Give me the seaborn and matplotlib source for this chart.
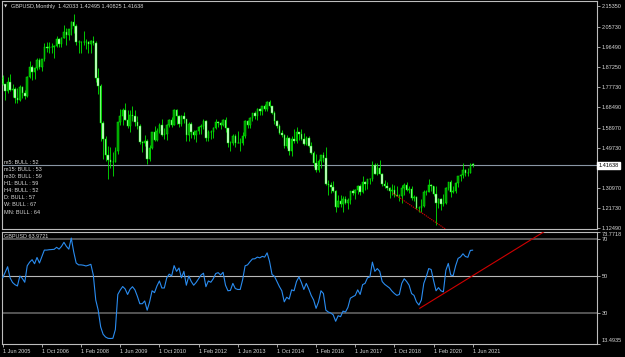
import numpy as np
import matplotlib
matplotlib.use("Agg")
import matplotlib.pyplot as plt
import seaborn as sns
from matplotlib.transforms import blended_transform_factory

# ---------------- data (GBPUSD monthly, Jun 2005 .. Jun 2021) ----------------
opens = [
    1.8180, 1.7920, 1.7600, 1.8010, 1.7650, 1.7700, 1.7280,                          # 2005 Jun-Dec
    1.7190, 1.7790, 1.7500, 1.7370, 1.8230, 1.8710, 1.8490, 1.8680, 1.9040, 1.8720, 1.9070, 1.9640,  # 2006
    1.9580, 1.9620, 1.9620, 1.9670, 1.9990, 1.9790, 2.0070, 2.0330, 2.0180, 2.0450, 2.0800, 2.0590,  # 2007
    1.9850, 1.9890, 1.9860, 1.9850, 1.9850, 1.9780, 1.9900, 1.9800, 1.8210, 1.7840, 1.6100, 1.5380,  # 2008
    1.4620, 1.4380, 1.4310, 1.4320, 1.4800, 1.6150, 1.6450, 1.6700, 1.6270, 1.5990, 1.6480, 1.6450,  # 2009
    1.6150, 1.5990, 1.5220, 1.5170, 1.5290, 1.4450, 1.4950, 1.5690, 1.5340, 1.5730, 1.6030, 1.5580,  # 2010
    1.5610, 1.6020, 1.6260, 1.6030, 1.6700, 1.6450, 1.6060, 1.6430, 1.6290, 1.5580, 1.6070, 1.5680,  # 2011
    1.5540, 1.5760, 1.5910, 1.5990, 1.6230, 1.5420, 1.5700, 1.5680, 1.5870, 1.6150, 1.6130, 1.6020,  # 2012
    1.6260, 1.5860, 1.5170, 1.5190, 1.5530, 1.5190, 1.5210, 1.5210, 1.5500, 1.6190, 1.6030, 1.6360,  # 2013
    1.6560, 1.6430, 1.6750, 1.6670, 1.6880, 1.6740, 1.7110, 1.6880, 1.6600, 1.6210, 1.5990, 1.5640,  # 2014
    1.5580, 1.5030, 1.5440, 1.4830, 1.5350, 1.5280, 1.5710, 1.5610, 1.5350, 1.5130, 1.5430, 1.5060,  # 2015
    1.4740, 1.4250, 1.3920, 1.4370, 1.4610, 1.4480, 1.3310, 1.3240, 1.3130, 1.2980, 1.2240, 1.2480,  # 2016
    1.2340, 1.2580, 1.2410, 1.2550, 1.2950, 1.2880, 1.3030, 1.3210, 1.2930, 1.3400, 1.3280, 1.3520,  # 2017
    1.3510, 1.4190, 1.3770, 1.4030, 1.3770, 1.3290, 1.3210, 1.3120, 1.2970, 1.3030, 1.2770, 1.2740,  # 2018
    1.2750, 1.3110, 1.3260, 1.3030, 1.3040, 1.2630, 1.2700, 1.2160, 1.2160, 1.2290, 1.2940, 1.2930,  # 2019
    1.3250, 1.3200, 1.2820, 1.2410, 1.2590, 1.2340, 1.2400, 1.3090, 1.3370, 1.2920, 1.2950, 1.3340,  # 2020
    1.3670, 1.3710, 1.3930, 1.3780, 1.3820, 1.42033,                                 # 2021 Jan-Jun
]
highs = [
    1.8360, 1.7930, 1.8250, 1.8370, 1.7920, 1.7780, 1.7720,
    1.7890, 1.7830, 1.7660, 1.8300, 1.9000, 1.8820, 1.8720, 1.9130, 1.9130, 1.9100, 1.9820, 1.9850,
    1.9850, 1.9800, 1.9720, 2.0130, 2.0030, 2.0090, 2.0660, 2.0510, 2.0470, 2.0820, 2.1160, 2.0710,
    1.9950, 1.9930, 2.0400, 2.0000, 1.9910, 1.9960, 2.0160, 1.9930, 1.8650, 1.7900, 1.6190, 1.5530,
    1.5040, 1.4990, 1.4780, 1.4990, 1.6170, 1.6750, 1.6790, 1.7040, 1.6700, 1.6700, 1.6880, 1.6730,
    1.6460, 1.6050, 1.5300, 1.5580, 1.5390, 1.5100, 1.5700, 1.5960, 1.5880, 1.6100, 1.6300, 1.5890,
    1.6060, 1.6280, 1.6410, 1.6740, 1.6750, 1.6480, 1.6470, 1.6620, 1.6300, 1.6160, 1.6160, 1.5780,
    1.5810, 1.5980, 1.6060, 1.6300, 1.6250, 1.5780, 1.5780, 1.5920, 1.6310, 1.6190, 1.6140, 1.6310,
    1.6380, 1.5880, 1.5270, 1.5600, 1.5610, 1.5750, 1.5420, 1.5720, 1.6260, 1.6260, 1.6380, 1.6600,
    1.6670, 1.6820, 1.6800, 1.6900, 1.6990, 1.7120, 1.7190, 1.6920, 1.6650, 1.6260, 1.6060, 1.5790,
    1.5590, 1.5550, 1.5450, 1.5500, 1.5820, 1.5930, 1.5720, 1.5820, 1.5660, 1.5510, 1.5510, 1.5250,
    1.4810, 1.4670, 1.4460, 1.4640, 1.4770, 1.5020, 1.3480, 1.3370, 1.3450, 1.2990, 1.2770, 1.2780,
    1.2710, 1.2710, 1.2620, 1.2970, 1.3050, 1.3050, 1.3230, 1.3270, 1.3660, 1.3420, 1.3540, 1.3550,
    1.4350, 1.4250, 1.4250, 1.4380, 1.3790, 1.3470, 1.3360, 1.3130, 1.3300, 1.3260, 1.3180, 1.2840,
    1.3220, 1.3350, 1.3380, 1.3200, 1.3180, 1.2780, 1.2710, 1.2250, 1.2580, 1.3010, 1.3010, 1.3510,
    1.3280, 1.3210, 1.3200, 1.2650, 1.2650, 1.2810, 1.3170, 1.3390, 1.3480, 1.3180, 1.3400, 1.3680,
    1.3760, 1.4240, 1.4000, 1.4010, 1.4250, 1.42495,
]
lows = [
    1.7870, 1.7180, 1.7520, 1.7580, 1.7330, 1.7040, 1.7040,
    1.7140, 1.7270, 1.7210, 1.7300, 1.8220, 1.8090, 1.8130, 1.8570, 1.8620, 1.8520, 1.8970, 1.9400,
    1.9380, 1.9340, 1.9110, 1.9630, 1.9650, 1.9650, 2.0050, 1.9730, 1.9970, 2.0190, 2.0300, 1.9750,
    1.9370, 1.9360, 1.9710, 1.9540, 1.9340, 1.9360, 1.9720, 1.8000, 1.7450, 1.5260, 1.4450, 1.4340,
    1.3500, 1.4010, 1.3660, 1.4300, 1.4680, 1.6010, 1.6010, 1.6260, 1.5900, 1.5710, 1.6220, 1.5980,
    1.5830, 1.5150, 1.4780, 1.5070, 1.4230, 1.4360, 1.4900, 1.5290, 1.5300, 1.5650, 1.5530, 1.5350,
    1.5340, 1.5940, 1.5930, 1.6030, 1.6090, 1.5910, 1.5960, 1.6130, 1.5270, 1.5270, 1.5420, 1.5390,
    1.5230, 1.5600, 1.5600, 1.5850, 1.5270, 1.5270, 1.5390, 1.5400, 1.5830, 1.5910, 1.5830, 1.5990,
    1.5680, 1.5010, 1.4830, 1.5090, 1.5000, 1.5170, 1.4810, 1.5100, 1.5430, 1.5890, 1.5900, 1.6230,
    1.6280, 1.6250, 1.6480, 1.6470, 1.6690, 1.6690, 1.6860, 1.6540, 1.6050, 1.5870, 1.5590, 1.5480,
    1.4950, 1.4950, 1.4630, 1.4570, 1.5170, 1.5170, 1.5330, 1.5330, 1.5100, 1.5110, 1.5020, 1.4700,
    1.4080, 1.3840, 1.3840, 1.4010, 1.4330, 1.3220, 1.2800, 1.2850, 1.2920, 1.1990, 1.2200, 1.2200,
    1.1990, 1.2340, 1.2110, 1.2370, 1.2770, 1.2590, 1.2810, 1.2770, 1.2850, 1.3030, 1.3040, 1.3300,
    1.3450, 1.3760, 1.3710, 1.3760, 1.3200, 1.3100, 1.3010, 1.2660, 1.2790, 1.2700, 1.2720, 1.2480,
    1.2430, 1.2770, 1.2960, 1.2870, 1.2560, 1.2510, 1.2120, 1.2010, 1.2000, 1.2200, 1.2770, 1.2900,
    1.2950, 1.2720, 1.1410, 1.2160, 1.2080, 1.2250, 1.2380, 1.2990, 1.2680, 1.2860, 1.2850, 1.3130,
    1.3450, 1.3570, 1.3670, 1.3670, 1.3800, 1.40825,
]
closes = [
    1.7920, 1.7600, 1.8010, 1.7650, 1.7700, 1.7280, 1.7190,
    1.7790, 1.7500, 1.7370, 1.8230, 1.8710, 1.8490, 1.8680, 1.9040, 1.8720, 1.9070, 1.9640, 1.9580,
    1.9620, 1.9620, 1.9670, 1.9990, 1.9790, 2.0070, 2.0330, 2.0180, 2.0450, 2.0800, 2.0590, 1.9850,
    1.9890, 1.9860, 1.9850, 1.9850, 1.9780, 1.9900, 1.9800, 1.8210, 1.7840, 1.6100, 1.5380, 1.4620,
    1.4380, 1.4310, 1.4320, 1.4800, 1.6150, 1.6450, 1.6700, 1.6270, 1.5990, 1.6480, 1.6450, 1.6150,
    1.5990, 1.5220, 1.5170, 1.5290, 1.4450, 1.4950, 1.5690, 1.5340, 1.5730, 1.6030, 1.5580, 1.5610,
    1.6020, 1.6260, 1.6030, 1.6700, 1.6450, 1.6060, 1.6430, 1.6290, 1.5580, 1.6070, 1.5680, 1.5540,
    1.5760, 1.5910, 1.5990, 1.6230, 1.5420, 1.5700, 1.5680, 1.5870, 1.6150, 1.6130, 1.6020, 1.6260,
    1.5860, 1.5170, 1.5190, 1.5530, 1.5190, 1.5210, 1.5210, 1.5500, 1.6190, 1.6030, 1.6360, 1.6560,
    1.6430, 1.6750, 1.6670, 1.6880, 1.6740, 1.7110, 1.6880, 1.6600, 1.6210, 1.5990, 1.5640, 1.5580,
    1.5030, 1.5440, 1.4830, 1.5350, 1.5280, 1.5710, 1.5610, 1.5350, 1.5130, 1.5430, 1.5060, 1.4740,
    1.4250, 1.3920, 1.4370, 1.4610, 1.4480, 1.3310, 1.3240, 1.3130, 1.2980, 1.2240, 1.2480, 1.2340,
    1.2580, 1.2410, 1.2550, 1.2950, 1.2880, 1.3030, 1.3210, 1.2930, 1.3400, 1.3280, 1.3520, 1.3510,
    1.4190, 1.3770, 1.4030, 1.3770, 1.3290, 1.3210, 1.3120, 1.2970, 1.3030, 1.2770, 1.2740, 1.2750,
    1.3110, 1.3260, 1.3030, 1.3040, 1.2630, 1.2700, 1.2160, 1.2160, 1.2290, 1.2940, 1.2930, 1.3250,
    1.3200, 1.2820, 1.2410, 1.2590, 1.2340, 1.2400, 1.3090, 1.3370, 1.2920, 1.2950, 1.3340, 1.3670,
    1.3710, 1.3930, 1.3780, 1.3820, 1.4150, 1.41638,
]
# RSI values
rsi_values = [
    49, 52, 55, 49, 46.5, 45.3, 44.6, 50, 48.7, 46.6,
    55.5, 57.5, 58.8, 56.6, 60, 57, 60.5, 64, 64, 64.2,
    64.3, 64.4, 65.5, 64.5, 66, 68.2, 66, 64.5, 70.5, 63,
    57, 56, 56, 55.8, 55.4, 55.8, 56.3, 50.5, 37, 31.5,
    22.5, 18.5, 17, 16.3, 16.2, 16.3, 21, 40, 42.4, 44.3,
    43, 40, 42.8, 44.2, 42.5, 39, 35, 35, 36.5, 31.5,
    36, 42, 41, 44.6, 47.3, 43.5, 43.5, 49, 51, 50,
    55.6, 52.5, 54.3, 49, 52.5, 45, 50, 47, 45, 46.5,
    48.5, 50.5, 51.5, 44.2, 47.3, 46.6, 48.5,
    51.3, 51.8, 50.5, 52, 45, 42, 42.2, 46, 43.2, 42.7, 42.7, 48, 55.5,
    56, 57.7, 59.2, 59.3, 60.2, 59.8, 60.6, 60.2, 62.5, 57.8,
    50.8, 49.8, 47, 44.3, 42, 36, 38.5, 37.5, 42.5, 42,
    47, 49.5, 46.5, 42.7, 46, 43, 39.5, 37, 32.5, 36,
    42, 40.5, 31.5, 30.5, 30, 29, 25.5, 28.5, 28, 31,
    30.5, 33, 38, 38.8, 39.5, 42.5, 40, 45.3, 46, 49,
    49.5, 57.5, 52.5, 54, 52.5, 47, 45.5, 44.5, 43.5, 41.8,
    40.5, 39.5, 40, 46, 48.5, 47, 45, 40.5, 39.5, 36,
    34.3, 37, 46, 49.6, 54, 53.5, 47.5, 42, 43.7, 42,
    41.4, 53, 56.8, 50.5, 50.2, 55.5, 59.5, 60.3, 62, 60.5,
    60.1, 63.8, 63.97,
]
month_index = list(range(len(closes)))
date_labels = ["1 Jun 2005", "1 Oct 2006", "1 Feb 2008", "1 Jun 2009", "1 Oct 2010",
               "1 Feb 2012", "1 Jun 2013", "1 Oct 2014", "1 Feb 2016", "1 Jun 2017",
               "1 Oct 2018", "1 Feb 2020", "1 Jun 2021"]
date_label_index = [0, 16, 32, 48, 64, 80, 96, 112, 128, 144, 160, 176, 192]
price_ticks = [2.15350, 2.05730, 1.96490, 1.87250, 1.77730, 1.68490, 1.58970,
               1.49730, 1.40490, 1.30970, 1.21730, 1.12490]
price_range = (1.1203, 2.1767)
rsi_levels = [30, 50, 70]
rsi_range = (13.4935, 73.7718)
last_price = 1.41638
rsi_last = 63.9721
title_values = ["1.42033", "1.42495", "1.40825", "1.41638"]
mtf_labels = ["m5", "m15", "m30", "H1", "H4", "D", "W", "MN"]
mtf_states = ["BULL"] * 8
mtf_values = [52, 53, 59, 59, 52, 57, 67, 64]
price_trend_x = [159.3, 181.0]
price_trend_y = [1.2871, 1.1190]
rsi_trend_x = [170.3, 221.1]
rsi_trend_y = [32.5, 73.9]

# ---------------- styling ----------------
sns.set_style("dark", {"axes.facecolor": "black", "figure.facecolor": "black"})
plt.rcParams["font.family"] = ["Liberation Sans", "DejaVu Sans"]

W, H = 625, 357
fig = plt.figure(figsize=(W / 100, H / 100), dpi=100, facecolor="black")
ax = fig.add_axes([2 / W, (H - 229) / H, 595 / W, 228 / H])
axr = fig.add_axes([2 / W, (H - 343.5) / H, 595 / W, 111.5 / H], sharex=ax)

txt_col = "#d8d8d8"
fs = 3.95

for a in (ax, axr):
    a.set_facecolor("black")
    a.grid(False)
    for s in a.spines.values():
        s.set_color("#bdbdbd")
        s.set_linewidth(0.8)
    a.yaxis.tick_right()
    a.tick_params(axis="y", colors="#bdbdbd", labelcolor=txt_col, labelsize=fs,
                  length=2, width=0.6, pad=1.2, direction="out")

# ---------------- candles ----------------
o = np.array(opens); h = np.array(highs); l = np.array(lows); c = np.array(closes)
x = np.array(month_index)
bull = c >= o
ax.vlines(x, l, h, color="#00e800", linewidth=0.6, zorder=2)
ax.bar(x[bull], (c - o)[bull], bottom=o[bull], width=0.62,
       color="#009a00", edgecolor="#00f000", linewidth=0.35, zorder=3)
ax.bar(x[~bull], (o - c)[~bull], bottom=c[~bull], width=0.62,
       color="#e6ffe6", edgecolor="#00f000", linewidth=0.35, zorder=3)

ax.axhline(last_price, color="#8a96a4", linewidth=0.8, zorder=1)
sns.lineplot(x=price_trend_x, y=price_trend_y, ax=ax, color="#d00000",
             linewidth=0.8, linestyle=(0, (1.2, 0.8)), zorder=4)

ax.set_xlim(-0.3, 242.75)
ax.set_ylim(*price_range)
ax.set_yticks(price_ticks)
# the tick under the current-price box is hidden by it in the reference
ax.set_yticklabels(["" if abs(v - last_price) < 0.03 else f"{v:.5f}" for v in price_ticks])
ax.tick_params(axis="x", bottom=False, labelbottom=False)
ax.set_xlabel(""); ax.set_ylabel("")

trans = blended_transform_factory(ax.transAxes, ax.transData)
ax.text(1.0 + 1.5 / 595, last_price, f"{last_price:.5f}", transform=trans, ha="left",
        va="center", fontsize=fs, color="black", zorder=10, clip_on=False,
        bbox=dict(boxstyle="square,pad=0.2", facecolor="white", edgecolor="white"))

# ---------------- RSI ----------------
for lev, col, lw in zip(rsi_levels, ["#6a6a6a", "#b8b8b8", "#6a6a6a"], [1.1, 0.8, 1.1]):
    axr.axhline(lev, color=col, linewidth=lw, zorder=1)
sns.lineplot(x=month_index, y=rsi_values, ax=axr, color="#2a8cf0", linewidth=0.8, zorder=3)
sns.lineplot(x=rsi_trend_x, y=rsi_trend_y, ax=axr, color="#d00000", linewidth=0.8, zorder=4)
axr.set_ylim(*rsi_range)
rsi_ticks = [rsi_range[0]] + rsi_levels + [rsi_range[1]]
axr.set_yticks(rsi_ticks)
axr.set_yticklabels(["13.4935", "30", "50", "70", "73.7718"])
labs = axr.get_yticklabels()
labs[0].set_va("bottom")
labs[-1].set_va("top")
axr.set_xlabel(""); axr.set_ylabel("")
axr.set_xticks(date_label_index)
axr.set_xticklabels(date_labels)
axr.tick_params(axis="x", colors="#bdbdbd", labelcolor=txt_col, labelsize=fs,
                length=2.5, width=0.6, pad=1.2, direction="out", bottom=True)
for t in axr.get_xticklabels():
    t.set_ha("left")
ax.set_xlim(-0.3, 242.75)

# ---------------- texts ----------------
def px_text(xp, yp, s, size=fs, **kw):
    fig.text(xp / W, 1 - yp / H, s, va="center", ha="left", fontsize=size, color=txt_col, **kw)

px_text(3.5, 6.5, "\u25bc", size=3.0, family=["DejaVu Sans"])
px_text(11, 6.5, "GBPUSD,Monthly  " + " ".join(title_values))
px_text(4, 236.5, f"GBPUSD {rsi_last:.4f}")
mtf_y = [162.8, 169.5, 176.5, 183.5, 190.7, 197.8, 205.0, 212.3]
for lab, st, v, yy in zip(mtf_labels, mtf_states, mtf_values, mtf_y):
    px_text(4, yy, f"{lab}: {st} : {v}")

fig.savefig("out.png", dpi=100, facecolor="black")
